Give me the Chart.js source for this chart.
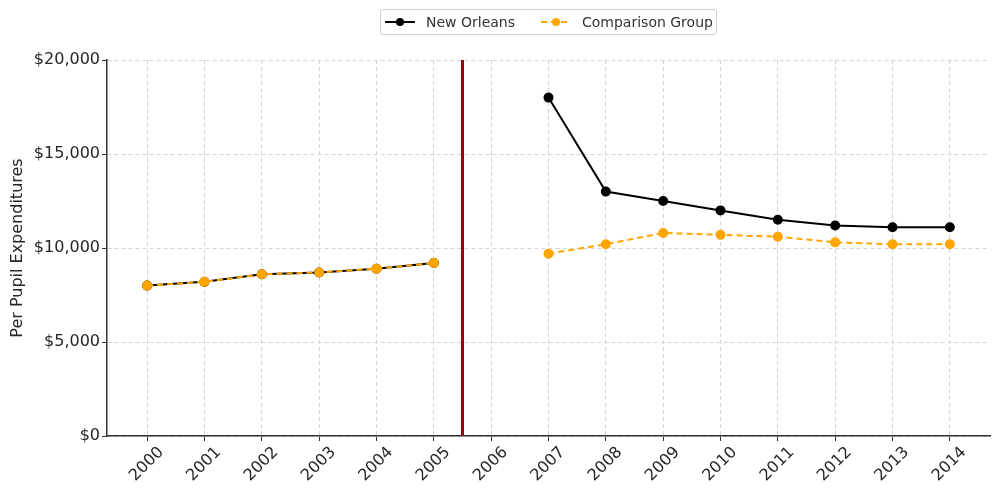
<!DOCTYPE html>
<html>
<head>
<meta charset="utf-8">
<script src="https://cdn.jsdelivr.net/npm/chart.js@4"></script>
<style>
  html, body { margin:0; padding:0; background:#fff; }
  #wrap { position:relative; width:1000px; height:493px; }
  #legend {
    position:absolute; left:380px; top:9px; height:26px; width:337px;
    border:1px solid #d0d0d0; border-radius:3px; box-sizing:border-box;
    font-family:"DejaVu Sans", sans-serif; font-size:14px; color:#333;
    white-space:nowrap;
  }
  #legend .item { position:absolute; top:0; height:24px; display:flex; align-items:center; white-space:nowrap; }
  #legend svg { margin-right:11px; flex:none; }
</style>
</head>
<body>
<div id="wrap">
  <canvas id="c" width="1000" height="493"></canvas>
  <div id="legend">
    <div class="item" style="left:4px"><svg width="30" height="10"><line x1="0" y1="5" x2="30" y2="5" stroke="#000" stroke-width="2"/><circle cx="15" cy="5" r="4" fill="#000"/></svg>New Orleans</div>
    <div class="item" style="left:160px"><svg width="30" height="10"><line x1="0" y1="5" x2="30" y2="5" stroke="#FFA500" stroke-width="2" stroke-dasharray="6,4"/><circle cx="15" cy="5" r="4" fill="#FFA500"/></svg>Comparison Group</div>
  </div>
</div>
<script>
// data
const years = ['2000','2001','2002','2003','2004','2005','2006','2007','2008','2009','2010','2011','2012','2013','2014'];
const newOrleans = [8000, 8200, 8600, 8700, 8900, 9200, null, 18000, 13000, 12500, 12000, 11500, 11200, 11100, 11100];
const comparison = [8000, 8200, 8600, 8700, 8900, 9200, null, 9700, 10200, 10800, 10700, 10600, 10300, 10200, 10200];
const yTicks = [0, 5000, 10000, 15000, 20000];
const stormX = 5.5; // between 2005 and 2006

const toPts = arr => arr.map((v, i) => ({x: i, y: v}));
const fmt = v => '$' + v.toLocaleString('en-US');

Chart.defaults.font.family = '"DejaVu Sans", sans-serif';
Chart.defaults.color = '#262626';

new Chart(document.getElementById('c'), {
  type: 'line',
  data: {
    datasets: [
      {
        label: 'Comparison Group',
        data: toPts(comparison),
        borderColor: '#FFA500', backgroundColor: '#FFA500',
        borderWidth: 2, borderDash: [6, 4],
        pointRadius: 4, pointHoverRadius: 4, spanGaps: false, tension: 0
      },
      {
        label: 'New Orleans',
        data: toPts(newOrleans),
        borderColor: '#000', backgroundColor: '#000',
        borderWidth: 2,
        pointRadius: 4, pointHoverRadius: 4, spanGaps: false, tension: 0
      },
      {
        label: 'storm',
        data: [{x: stormX, y: yTicks[0]}, {x: stormX, y: yTicks[yTicks.length - 1]}],
        borderColor: '#900c0c', borderWidth: 3, pointRadius: 0
      }
    ]
  },
  options: {
    responsive: false,
    animation: false,
    layout: { padding: { top: 60, right: 10, left: 0, bottom: 0 } },
    plugins: { legend: { display: false }, tooltip: { enabled: false } },
    scales: {
      x: {
        type: 'linear', min: -0.7, max: years.length - 1 + 0.7,
        afterBuildTicks: s => { s.ticks = years.map((y, i) => ({value: i})); },
        afterFit: s => { s.height = 57; },
        ticks: {
          callback: v => years[v],
          font: { size: 16 }, maxRotation: 45, minRotation: 45,
          padding: 2, labelOffset: 14
        },
        grid: { color: '#d4d4d4', tickColor: '#333', tickLength: 5, tickBorderDash: [] },
        border: { display: true, color: '#333', width: 1.5, dash: [4, 3] }
      },
      y: {
        min: 0, max: 20000,
        afterBuildTicks: s => { s.ticks = yTicks.map(v => ({value: v})); },
        afterFit: s => { s.width = 107; },
        ticks: { callback: v => fmt(v), font: { size: 16 }, padding: 2 },
        grid: { color: '#d4d4d4', tickColor: '#333', tickLength: 5, tickBorderDash: [] },
        border: { display: true, color: '#333', width: 1.5, dash: [4, 3] },
        title: { display: true, text: 'Per Pupil Expenditures', font: { size: 16 }, padding: { top: 8, bottom: 4 } }
      }
    }
  }
});
</script>
</body>
</html>
